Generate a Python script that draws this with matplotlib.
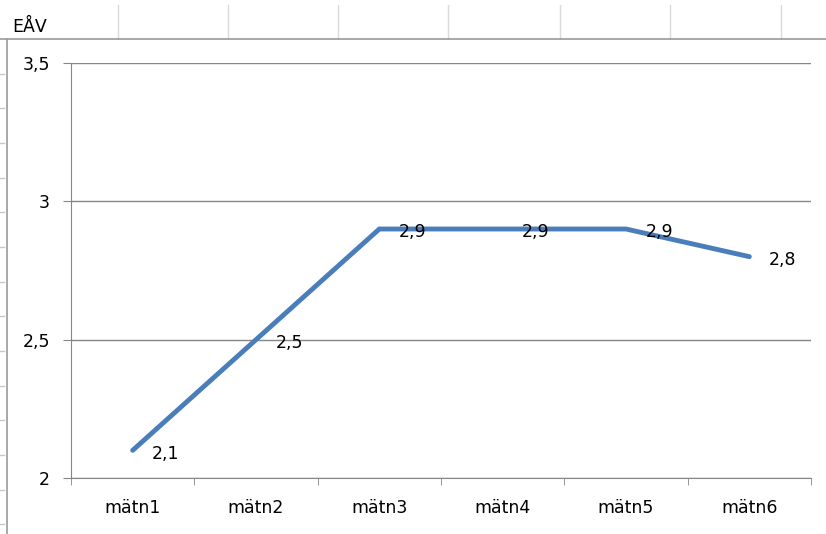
import matplotlib
matplotlib.use("Agg")
from matplotlib import pyplot as plt
from matplotlib.lines import Line2D

categories = ["mätn1", "mätn2", "mätn3", "mätn4", "mätn5", "mätn6"]
values = [2.1, 2.5, 2.9, 2.9, 2.9, 2.8]
value_labels = ["2,1", "2,5", "2,9", "2,9", "2,9", "2,8"]
yticks = [2, 2.5, 3, 3.5]
ytick_labels = ["2", "2,5", "3", "3,5"]

plt.rcParams['font.family'] = ['DejaVu Sans']

W, H = 826, 534
fig = plt.figure(figsize=(W / 100, H / 100), dpi=100)

def fx(px):
    return px / W

def fy(py):
    return 1 - py / H

# spreadsheet background: cell lines above the chart and row stubs at left
for cx in [118, 228, 338, 448, 560, 670, 781]:
    fig.add_artist(Line2D([fx(cx), fx(cx)], [fy(5), fy(39)], color='#dadada', lw=1))
for ry in [74, 108, 143, 178, 212, 247, 282, 316, 351, 386, 420, 455, 490, 524]:
    fig.add_artist(Line2D([fx(0), fx(4)], [fy(ry), fy(ry)], color='#c8c8c8', lw=1))
fig.text(fx(12), fy(32), "EÅV", fontsize=12.5, color='#000000', va='baseline', ha='left')

# chart frame
fig.add_artist(Line2D([fx(0), fx(826)], [fy(39), fy(39)], color='#9a9a9a', lw=1.2))
fig.add_artist(Line2D([fx(7), fx(7)], [fy(39), fy(534)], color='#9a9a9a', lw=1.2))

ax = fig.add_axes([fx(71), fy(478), fx(811) - fx(71), fy(63) - fy(478)])
x = list(range(len(categories)))
ax.plot(x, values, color='#4a7ebb', lw=3.5, solid_capstyle='round', solid_joinstyle='miter', zorder=3)
for xi, v, lab in zip(x, values, value_labels):
    ax.annotate(lab, (xi, v), xytext=(14, -2.5), textcoords='offset points',
                ha='left', va='center', fontsize=12.5, color='#000000', zorder=4)

ax.set_xlim(-0.5, len(categories) - 0.5)
ax.set_ylim(2, 3.5)
ax.set_yticks(yticks)
ax.set_yticklabels(ytick_labels, fontsize=12.5)
ax.set_xticks(x)
ax.set_xticklabels(categories, fontsize=12.5)
ax.set_xticks([i - 0.5 for i in range(len(categories) + 1)], minor=True)
ax.tick_params(axis='x', which='major', length=0, pad=15)
ax.tick_params(axis='x', which='minor', length=5, color='#868686', direction='out')
ax.tick_params(axis='y', length=6, color='#868686', direction='out', pad=9)
ax.grid(axis='y', color='#868686', lw=1)
for side in ['top', 'right']:
    ax.spines[side].set_visible(False)
ax.spines['left'].set_color('#868686')
ax.spines['bottom'].set_color('#868686')

plt.savefig('out.png', dpi=100)
